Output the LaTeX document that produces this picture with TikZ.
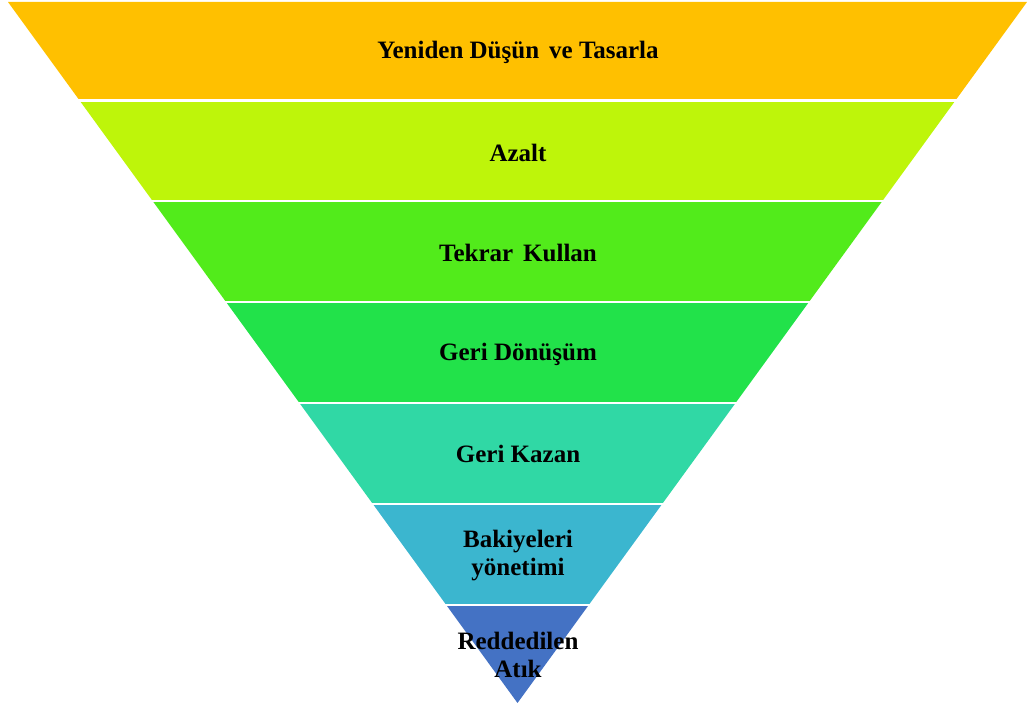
\documentclass[tikz,border=0pt]{standalone}
\usepackage{fontspec}
\setmainfont{Liberation Serif}
\usetikzlibrary{positioning}
\definecolor{katA}{HTML}{FFC000}
\definecolor{katB}{HTML}{BEF50A}
\definecolor{katC}{HTML}{52EB1B}
\definecolor{katD}{HTML}{22E24A}
\definecolor{katE}{HTML}{30D8A5}
\definecolor{katF}{HTML}{3BB6CF}
\definecolor{katG}{HTML}{4472C4}
\tikzset{
  etiket/.style={font=\fontsize{25}{28}\selectfont\bfseries, align=center, text=black, inner sep=0pt},
  ayrac/.style={white, line width=2.4pt}
}
% half width of the funnel at height y
\newcommand{\yari}[1]{0.7268*(703-#1)}

\begin{document}
\begin{tikzpicture}[x=1pt,y=-1pt]
  \useasboundingbox (0,0) rectangle (1027,703);
  % bands
  \foreach \ust/\alt/\renk in {2/100.5/katA,100.5/201/katB,201/302/katC,302/403/katD,403/504/katE,504/605/katF,605/703/katG}{
    \fill[\renk] ({517.5-\yari{\ust}},\ust) -- ({517.5+\yari{\ust}},\ust)
      -- ({517.5+\yari{\alt}},\alt) -- ({517.5-\yari{\alt}},\alt) -- cycle;
  }
  % white gaps
  \foreach \y in {100.5,201,302,403,504,605}
    \draw[ayrac] (0,\y) -- (1027,\y);
  % labels
  \node[etiket] (yeniden) at (518,52) {Yeniden Düşün\hspace{0.4em}ve Tasarla};
  \node[etiket] (azalt) at (518,153) {Azalt};
  \node[etiket] (tekrar) at (518,253) {Tekrar\hspace{0.4em}Kullan};
  \node[etiket] (donusum) at (518,354) {Geri Dönüşüm};
  \node[etiket] (kazan) at (518,454) {Geri Kazan};
  \node[etiket] (bakiye) at (518,556) {Bakiyeleri\\yönetimi};
  \node[etiket] (atik) at (518,655) {Reddedilen\\Atık};
\end{tikzpicture}
\end{document}
